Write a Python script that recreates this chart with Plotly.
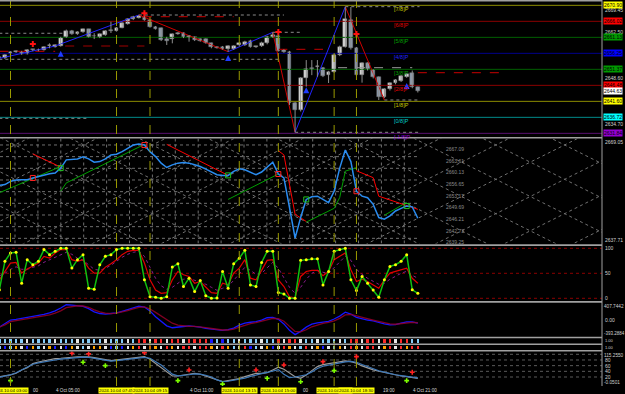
import plotly.graph_objects as go

# ------------------------------------------------------------------ data
bars = list(range(76))  # 15-minute bars, index 0 = 02:30
opens = [2654.68, 2654.83, 2656.05, 2656.66, 2656.81, 2656.05, 2657.27, 2657.12, 2657.27, 2658.49,
         2658.28, 2658.58, 2661.33, 2663.07, 2662.15, 2662.76, 2663.53, 2661.39, 2661.15, 2661.85,
         2663.22, 2663.16, 2664.08, 2665.21, 2666.64, 2667.13, 2667.43, 2666.43, 2664.38, 2663.89,
         2660.54, 2660.54, 2662.15, 2662.37, 2661.15, 2661.15, 2660.54, 2660.54, 2659.31, 2658.09,
         2658.28, 2657.48, 2657.58, 2658.70, 2658.80, 2660.11, 2658.19, 2658.49, 2659.31, 2661.33,
         2661.54, 2657.27, 2656.75, 2641.00, 2638.96, 2648.63, 2651.78, 2652.17, 2651.87, 2649.64,
         2650.65, 2655.74, 2658.28, 2666.43, 2657.97, 2649.64, 2653.21, 2651.17, 2648.94, 2643.02,
         2645.28, 2647.11, 2647.81, 2649.12, 2650.34, 2645.89]
highs = [2655.5, 2656.0, 2656.9, 2657.1, 2657.0, 2657.5, 2657.6, 2657.7, 2658.4, 2659.3,
         2659.0, 2661.3, 2663.5, 2663.4, 2663.0, 2663.8, 2663.7, 2662.4, 2662.3, 2663.3,
         2665.9, 2664.3, 2665.7, 2666.9, 2667.7, 2667.95, 2668.04, 2666.6, 2664.6, 2664.1,
         2661.3, 2662.3, 2662.7, 2662.6, 2661.85, 2661.4, 2660.8, 2660.8, 2659.5, 2658.4,
         2658.5, 2658.7, 2658.7, 2659.6, 2660.1, 2660.4, 2658.5, 2659.8, 2661.6, 2662.67,
         2662.67, 2657.5, 2657.0, 2641.4, 2649.0, 2654.2, 2654.2, 2654.2, 2652.1, 2650.9,
         2656.0, 2658.6, 2670.49, 2670.39, 2658.2, 2653.5, 2653.5, 2651.4, 2649.2, 2645.6,
         2647.4, 2648.4, 2649.6, 2650.3, 2651.0, 2646.1]
lows = [2654.3, 2654.5, 2655.8, 2656.4, 2655.8, 2655.9, 2656.9, 2656.9, 2657.1, 2657.8,
        2658.0, 2658.3, 2661.0, 2661.9, 2661.9, 2662.5, 2661.1, 2660.6, 2660.9, 2661.6,
        2662.46, 2662.9, 2663.9, 2665.0, 2666.4, 2666.9, 2666.2, 2664.1, 2663.5, 2660.0,
        2658.8, 2659.3, 2661.9, 2660.9, 2659.8, 2660.0, 2659.8, 2659.2, 2657.8, 2657.7,
        2657.4, 2656.75, 2657.3, 2658.4, 2658.5, 2658.0, 2657.9, 2658.2, 2659.0, 2661.0,
        2656.8, 2656.4, 2640.5, 2632.15, 2638.5, 2646.1, 2649.6, 2649.1, 2649.0, 2647.2,
        2650.3, 2655.4, 2658.0, 2657.4, 2649.3, 2647.3, 2651.0, 2648.6, 2642.01, 2642.6,
        2644.9, 2646.8, 2647.5, 2648.8, 2645.6, 2644.3]
closes = [2655.13, 2655.74, 2656.66, 2656.75, 2656.05, 2657.27, 2657.18, 2657.42, 2658.19, 2658.58,
          2658.80, 2661.02, 2663.16, 2662.15, 2662.76, 2663.53, 2661.33, 2661.54, 2662.06, 2663.07,
          2663.16, 2664.08, 2665.42, 2666.64, 2667.43, 2667.65, 2666.43, 2664.38, 2663.77, 2660.32,
          2660.11, 2662.06, 2662.46, 2661.15, 2661.20, 2660.32, 2660.11, 2659.50, 2658.09, 2658.00,
          2657.67, 2658.49, 2658.49, 2659.31, 2659.80, 2658.28, 2658.19, 2659.50, 2661.33, 2661.85,
          2657.06, 2656.75, 2641.00, 2638.96, 2648.63, 2651.38, 2651.47, 2652.17, 2649.33, 2650.65,
          2655.74, 2658.28, 2666.64, 2657.79, 2649.64, 2653.21, 2651.38, 2648.94, 2643.02, 2645.28,
          2647.11, 2648.11, 2649.33, 2649.95, 2645.89, 2644.63]
last_price = 2644.63

zz_bars = [0, 10, 25, 41, 49, 53, 62, 69]
zz_prices = [2654.70, 2658.49, 2667.95, 2656.75, 2662.67, 2632.15, 2670.49, 2642.01]
buy_bars = [11, 41, 55, 73]
buy_prices = [2657.06, 2655.74, 2645.89, 2647.20]
sell_bars = [6, 26, 50, 64]
sell_prices = [2659.10, 2668.47, 2662.77, 2662.15]

murrey_levels = [2670.90, 2666.02, 2661.13, 2656.25, 2651.37, 2646.48, 2641.60, 2636.72, 2631.84]
murrey_names = ["[7/8]P", "[6/8]P", "[5/8]P", "[4/8]P", "[3/8]P", "[2/8]P", "[1/8]P", "[0/8]P", "[-1/8]P"]
price_ticks = [2669.45, 2662.50, 2648.60, 2634.70]   # visible price-scale labels

# horizontal signal segments: (price, first bar, last bar)
gray_dotted = [(2662.37, 0, 11.8), (2654.43, 0, 50), (2636.42, 0, 16), (2667.95, 25, 51),
               (2662.67, 49, 54), (2670.49, 62, 75.3), (2642.01, 69, 75.3), (2632.15, 53, 75.3)]
gray_dashed = [(2651.87, 60.7, 74)]
red_dashed = [(2656.87, 0, 10), (2658.49, 11.8, 26), (2667.43, 25.7, 42), (2657.48, 50, 58),
              (2650.34, 75, 90)]

vline_bars = [2, 21, 27, 43, 50, 60, 64]
vline_labels = ["2024.10.04 03:00", "2024.10.04 07:45", "2024.10.04 09:15", "2024.10.04 13:15",
                "2024.10.04 15:00", "2024.10.04 17:30", "2024.10.04 18:30"]
time_tick_bars = [10, 34, 74]
time_tick_labels = ["4 Oct 05:00", "4 Oct 11:00", "4 Oct 21:00"]
# visible tails of axis labels that are partly covered by the yellow boxes
time_tail_px = [32.0, 301.5, 381.5]
time_tail_labels = ["00", "00", "19:00"]

# panel 2 (price oscillator with gann grid)
osc_line = [2655.07, 2655.27, 2656.25, 2656.66, 2656.75, 2656.75, 2657.25, 2657.72, 2658.22, 2658.52,
            2658.72, 2660.20, 2662.65, 2662.85, 2662.94, 2663.53, 2662.94, 2661.97, 2662.14, 2662.94,
            2664.12, 2664.33, 2665.09, 2666.10, 2667.07, 2667.36, 2667.07, 2665.09, 2663.62, 2661.67,
            2660.38, 2661.17, 2661.67, 2661.85, 2661.67, 2661.17, 2660.67, 2659.90, 2659.02, 2658.22,
            2658.02, 2658.02, 2659.20, 2659.99, 2659.70, 2659.02, 2658.22, 2659.02, 2660.38, 2661.97,
            2658.43, 2657.25, 2648.40, 2639.35, 2645.45, 2650.85, 2651.65, 2651.82, 2650.85, 2649.88,
            2653.30, 2660.20, 2665.59, 2662.14, 2653.30, 2651.82, 2651.35, 2649.38, 2645.45, 2644.95,
            2645.93, 2647.40, 2648.20, 2648.87, 2648.64, 2645.25]
osc_red_segments = [([6, 11], [2664.42, 2660.49]),
                    ([30, 41], [2667.27, 2658.02]),
                    ([50, 51, 53, 55], [2665.39, 2664.12, 2646.43, 2644.27]),
                    ([64, 67, 68, 75], [2659.40, 2657.34, 2651.82, 2647.90])]
osc_green_segments = [([0, 11], [2652.83, 2660.67]),
                      ([11, 12, 26], [2653.30, 2655.78, 2667.27]),
                      ([41, 50], [2650.85, 2658.43]),
                      ([55, 60, 61, 62, 64], [2644.07, 2648.20, 2651.44, 2659.30, 2660.30]),
                      ([69, 73], [2646.13, 2649.96])]
osc_red_marks = [6, 26, 50, 64]
osc_green_marks = [11, 41, 55, 73]
gann_levels = [2667.09, 2663.61, 2660.13, 2656.65, 2653.17, 2649.69, 2646.21, 2642.73, 2639.25]
osc_top, osc_bottom = 2669.05, 2637.71

# panel 3 stochastic
stoch_k = [16.7, 73.9, 90.7, 92.0, 30.2, 77.2, 67.1, 73.9, 97.4, 87.3,
           94.0, 100, 100, 60.4, 77.2, 87.3, 20.1, 18.1, 67.1, 83.9,
           87.3, 97.4, 100, 100, 100, 100, 36.9, 3.3, 2.0, 0.0,
           3.3, 62.4, 69.2, 23.5, 40.3, 13.4, 35.5, 5.0, 0.0, 0.5,
           53.7, 20.1, 69.2, 80.0, 96.0, 26.8, 23.5, 71.8, 94.0, 94.0,
           11.4, 8.7, 0.0, 0.0, 75.9, 77.2, 79.2, 79.2, 26.8, 53.7,
           94.0, 97.4, 100, 36.9, 15.4, 43.6, 30.2, 16.7, 2.0, 36.9,
           63.8, 67.1, 73.9, 87.3, 17.0, 10.0]
stoch_d = [36.9, 53.7, 70.5, 71.8, 50.4, 58.5, 65.2, 70.5, 83.9, 80.6,
           90.7, 97.4, 97.4, 77.2, 73.9, 77.2, 60.4, 50.4, 50.4, 62.4,
           69.2, 77.2, 87.3, 94.0, 96.0, 96.0, 70.5, 36.9, 16.7, 10.0,
           11.4, 36.9, 53.7, 47.1, 43.7, 30.2, 33.6, 23.5, 11.4, 10.0,
           30.2, 26.8, 50.4, 60.4, 77.2, 40.3, 36.9, 55.8, 75.9, 77.2,
           36.9, 23.5, 3.0, 1.0, 43.7, 53.7, 55.8, 55.8, 45.0, 53.7,
           77.2, 83.9, 90.7, 57.1, 33.6, 38.3, 33.6, 26.8, 20.1, 36.9,
           50.4, 53.7, 57.1, 60.4, 40.0, 30.2]
stoch_slow = [45, 50, 58, 63, 58, 58, 62, 65, 72, 77,
              82, 88, 92, 88, 80, 76, 66, 58, 56, 60,
              66, 74, 82, 88, 92, 94, 84, 62, 40, 25,
              18, 22, 30, 38, 40, 36, 32, 28, 22, 16,
              20, 24, 36, 48, 62, 56, 48, 50, 62, 72,
              60, 42, 22, 10, 22, 38, 50, 56, 52, 50,
              62, 74, 84, 76, 58, 48, 40, 34, 28, 30,
              38, 44, 50, 54, 46, 40]
stoch_levels = [100, 50, 0]

# panel 4 oscillator
macd_main = [-168, -92, 0, 15, 38, 53, 84, 107, 130, 168,
             214, 282, 359, 351, 344, 321, 267, 191, 153, 137,
             153, 168, 206, 244, 290, 328, 305, 214, 76, -38,
             -137, -183, -176, -153, -137, -145, -168, -198, -214, -237,
             -244, -229, -191, -122, -76, -53, -38, 0, 53, 61,
             15, -92, -244, -344, -267, -168, -99, -69, -46, -31,
             23, 92, 183, 137, 61, 23, 0, -23, -61, -92,
             -115, -107, -76, -46, -46, -76]
macd_signal = [-168, -115, -38, -15, 0, 15, 38, 61, 92, 122,
               160, 214, 290, 320, 336, 330, 300, 240, 190, 160,
               150, 160, 185, 220, 260, 300, 310, 260, 180, 92,
               0, -76, -122, -145, -150, -150, -160, -180, -200, -222,
               -235, -236, -215, -170, -120, -85, -60, -30, 15, 38,
               30, -30, -150, -270, -280, -230, -160, -115, -80, -55,
               -20, 38, 120, 130, 95, 55, 25, 0, -30, -60,
               -90, -100, -90, -65, -55, -65]
macd_top, macd_bottom = 407.7442, -393.2884

# panels 5/6 colour-state rows
state_row1 = "LLLLLWLLLL" "WLLLWLLLLW" "LLLWLRRWRR" "WRRWRRRRBL" "BLLWLLLWLL" "RWRRWLLWLL" "LWLRRWRRWR" "RWRRLL"
state_row2 = "LBLOWBOLWO" "BWBOWLWOOW" "BLBWORWROW" "ROWRRWRROW" "ROLWRBLWOB" "WROWLRWOBW" "LOWROWRRWO" "RWRORR"
state_colors = {"L": "#87cefa", "W": "#e8e8e8", "R": "#ff2a2a", "B": "#1a1aff", "O": "#ffa500"}

# panel 7
p7_gray = [21.3, 24, 27.2, 33.1, 44.9, 53, 67, 73, 77, 82.6,
           85, 86, 88.5, 89.6, 90.8, 92, 91, 88.5, 86.1, 81.4,
           77.9, 80.2, 82.6, 86.1, 89.6, 92, 92, 82.6, 68.4, 54.3,
           39, 23.6, 23.6, 26, 29.6, 33.1, 29.6, 23.6, 16.5, 9.5,
           3.7, 7.2, 9.5, 14.2, 21.3, 27.2, 33.1, 33.1, 35.4, 44.9,
           54.3, 47.2, 33.1, 21.3, 15.4, 27.2, 42.5, 56.7, 63.7, 67.3,
           68.4, 72, 76.7, 74.3, 68.4, 59, 50.8, 44.9, 40.2, 35.4,
           30.7, 27.2, 23.6, 21.3, 19, 15.4]
p7_blue = [19, 23, 28, 35, 46, 55, 65, 70, 74, 78,
           80, 83, 85, 87, 89, 90, 89, 86, 83, 79,
           76, 78, 80, 83, 86, 88, 89, 86, 74, 62,
           46, 30, 24, 25, 28, 31, 30, 26, 20, 10,
           4, 5, 8, 11, 16, 22, 28, 32, 36, 42,
           46, 30, 18, 20, 24, 28, 38, 50, 58, 62,
           64, 68, 73, 75, 72, 64, 56, 48, 42, 37,
           32, 28, 25, 22, 20, 17]
p7_red_bars = [13, 16, 26, 34, 46, 51, 58, 64, 74]
p7_red_vals = [103.9, 101.4, 106, 44.9, 44.9, 62.5, 74.2, 91.9, 36.7]
p7_green_bars = [2, 15, 19, 32, 40, 48, 54, 60, 73]
p7_green_vals = [7.1, 72.1, 60.1, 7.1, -5, 15.5, 3.5, 42.4, 7.1]
p7_levels = [100, 80, 60, 40, 20]
p7_top, p7_bottom = "115.2550", "-0.0501"

# ------------------------------------------------------------------ layout geometry
W, H = 625, 394
MR, MB = 23, 8
PW, PH = W - MR, H - MB
X0, DX = -0.66, 5.58          # pixel of bar 0, pixels per bar
XR = [(0 - X0) / DX, (PW - X0) / DX]
FONT = "Liberation Sans, Arial, sans-serif"


def fy(p):
    return 1 - p / PH


def kx(px):
    return (px - X0) / DX


panels = {
    1: (0.0, 137.0, (5.33, murrey_levels[0], 133.33, murrey_levels[-1])),
    2: (138.4, 243.5, (138.4, osc_top, 243.5, osc_bottom)),
    3: (246.0, 301.0, (248.3, 100.0, 298.3, 0.0)),
    4: (302.7, 336.7, (302.7, macd_top, 336.7, macd_bottom)),
    5: (338.3, 343.6, (338.3, 1.0, 343.6, 0.0)),
    6: (345.0, 350.2, (345.0, 1.0, 350.2, 0.0)),
    7: (351.5, 386.0, (354.3, 100.0, 377.0, 20.0)),
}

fig = go.Figure()
layout = dict(width=W, height=H, margin=dict(l=0, r=MR, t=0, b=MB, pad=0),
              paper_bgcolor="black", plot_bgcolor="black", showlegend=False,
              barmode="overlay", bargap=0,
              xaxis=dict(range=XR, domain=[0, 1], visible=False, fixedrange=True))
ranges = {}
for i, (pt, pb, (p1, v1, p2, v2)) in panels.items():
    f = (lambda p, p1=p1, v1=v1, p2=p2, v2=v2: v1 + (p - p1) * (v2 - v1) / (p2 - p1))
    ranges[i] = (f(pb), f(pt))
    key = "yaxis" if i == 1 else f"yaxis{i}"
    layout[key] = dict(domain=[fy(pb), fy(pt)], range=[f(pb), f(pt)], visible=False,
                       anchor="x", fixedrange=True)


def ya(i):
    return "y" if i == 1 else f"y{i}"


def line(i, x, y, color, width=1, dash="solid", **kw):
    fig.add_trace(go.Scatter(x=x, y=y, xaxis="x", yaxis=ya(i), mode="lines",
                             line=dict(color=color, width=width, dash=dash),
                             hoverinfo="skip", showlegend=False, **kw))


def hseg(i, segs, color, dash, width=1):
    xs, ys = [], []
    for lvl, a, b in segs:
        xs += [a, b, None]
        ys += [lvl, lvl, None]
    line(i, xs, ys, color, width, dash)


# ------------------------------------------------------------------ panel 1
m_line_cols = ["#8c8c00", "#8b0000", "#005f00", "#00008b", "#005f00", "#8b0000", "#8c8c00", "#008b8b", "#5a1070"]
m_text_cols = ["#c8c800", "#e00000", "#00a000", "#2020ff", "#00a000", "#e00000", "#c8c800", "#00c8c8", "#9000d0"]
m_box_cols = ["#ffff00", "#ff0000", "#009900", "#0000ff", "#009900", "#ff0000", "#ffff00", "#00ffff", "#9400d3"]
for lvl, c in zip(murrey_levels, m_line_cols):
    line(1, [XR[0], XR[1]], [lvl, lvl], c, 1)

hseg(1, gray_dotted, "#8a8a8a", "dot")
hseg(1, gray_dashed, "#9a9a9a", "dash")
hseg(1, red_dashed, "#a00000", "dash", 1.2)

for a in range(len(zz_bars) - 1):
    up = zz_prices[a + 1] > zz_prices[a]
    line(1, zz_bars[a:a + 2], zz_prices[a:a + 2], "#2323ff" if up else "#d00000", 1)

wx, wy = [], []
for k in bars:
    wx += [k, k, None]
    wy += [lows[k], highs[k], None]
line(1, wx, wy, "#8c8c8c", 1)
bull = [c >= o for o, c in zip(opens, closes)]
body_base = [min(o, c) for o, c in zip(opens, closes)]
body_h = [max(abs(c - o), 0.3) for o, c in zip(opens, closes)]
fig.add_trace(go.Bar(x=bars, y=body_h, base=body_base, width=0.68, xaxis="x", yaxis="y",
                     marker=dict(color=["#dedede" if b else "#8e9db0" for b in bull],
                                 line=dict(color="#6e6e6e", width=0.5)),
                     hoverinfo="skip", showlegend=False))
fig.add_trace(go.Scatter(x=buy_bars, y=buy_prices, xaxis="x", yaxis="y", mode="markers",
                         marker=dict(symbol="arrow-up", size=6, color="#1e3cff"),
                         hoverinfo="skip", showlegend=False))
fig.add_trace(go.Scatter(x=sell_bars, y=sell_prices, xaxis="x", yaxis="y", mode="markers",
                         marker=dict(symbol="cross", size=5, color="#ff1010"),
                         hoverinfo="skip", showlegend=False))

# ------------------------------------------------------------------ panel 2
lo2, hi2 = ranges[2]
grid_col = "#707070"
hseg(2, [(g, XR[0], kx(420)) for g in gann_levels], grid_col, "dot")
vx, vy = [], []
px = 15.0
while px <= 421:
    vx += [kx(px), kx(px), None]
    vy += [lo2, hi2, None]
    px += 22.9
line(2, vx, vy, grid_col, 1, "dot")
ppx2 = (hi2 - lo2) / (panels[2][1] - panels[2][0])
slope = 0.5 * DX * ppx2
step = 68.7 / DX
ka = kx(15)
dx_, dy_ = [], []
for n in range(-20, 30):
    kc = ka + n * step
    for s in (1, -1):
        for kk in (-20, 130):
            dx_.append(kk)
            dy_.append(gann_levels[0] - s * slope * (kk - kc))
        dx_.append(None)
        dy_.append(None)
line(2, dx_, dy_, grid_col, 1, "dot")

for xs, ys in osc_green_segments:
    line(2, xs, ys, "#00a000", 1)
for xs, ys in osc_red_segments:
    line(2, xs, ys, "#ff0000", 1)
line(2, bars, osc_line, "#2a8cf0", 1.5)
fig.add_trace(go.Scatter(x=osc_red_marks, y=[osc_line[k] for k in osc_red_marks], xaxis="x", yaxis="y2",
                         mode="markers", marker=dict(symbol="square-open", size=5, color="#ff2020"),
                         hoverinfo="skip", showlegend=False))
fig.add_trace(go.Scatter(x=osc_green_marks, y=[osc_line[k] for k in osc_green_marks], xaxis="x", yaxis="y2",
                         mode="markers", marker=dict(symbol="square-open", size=5, color="#20c020"),
                         hoverinfo="skip", showlegend=False))

# ------------------------------------------------------------------ panel 3
hseg(3, [(l, XR[0], XR[1]) for l in stoch_levels], "#8b0000", "dot")
line(3, bars, stoch_slow, "#8a1a8a", 1, "dot")
line(3, bars, stoch_d, "#e00000", 1.2)
fig.add_trace(go.Scatter(x=bars, y=stoch_k, xaxis="x", yaxis="y3", mode="lines+markers",
                         line=dict(color="#10c010", width=1.5),
                         marker=dict(size=3, color="#ffff00"),
                         hoverinfo="skip", showlegend=False))

# ------------------------------------------------------------------ panel 4
line(4, bars, macd_main, "#1515ff", 1.3)
line(4, bars, macd_signal, "rgba(150,0,40,0.85)", 1.3)

# ------------------------------------------------------------------ panels 5/6
for i, row in ((5, state_row1), (6, state_row2)):
    fig.add_trace(go.Bar(x=bars, y=[0.64] * len(bars), base=0.14, width=0.42, xaxis="x", yaxis=ya(i),
                         marker=dict(color=[state_colors[c] for c in row], line=dict(width=0)),
                         hoverinfo="skip", showlegend=False))

# ------------------------------------------------------------------ panel 7
hseg(7, [(l, XR[0], XR[1]) for l in p7_levels], "#5a5a5a", "dot")
line(7, bars, p7_gray, "#9a9a9a", 1.2)
line(7, bars, p7_blue, "#3d78b8", 1.2)
fig.add_trace(go.Scatter(x=p7_red_bars, y=p7_red_vals, xaxis="x", yaxis="y7", mode="markers",
                         marker=dict(symbol="cross", size=4, color="#ff2020"),
                         hoverinfo="skip", showlegend=False))
fig.add_trace(go.Scatter(x=p7_green_bars, y=p7_green_vals, xaxis="x", yaxis="y7", mode="markers",
                         marker=dict(symbol="cross", size=4, color="#7cfc00"),
                         hoverinfo="skip", showlegend=False))

# ------------------------------------------------------------------ shapes
shapes = []
for k in vline_bars:
    shapes.append(dict(type="line", xref="x", yref="paper", x0=k, x1=k, y0=0, y1=1,
                       line=dict(color="#9a9a00", width=1, dash="dash"), layer="above"))
for p in [0.7, 137.7, 245.1, 301.9, 337.5, 344.3, 350.8]:
    shapes.append(dict(type="rect", xref="paper", yref="paper", x0=0, x1=1,
                       y0=fy(p + 0.8), y1=fy(p - 0.8), fillcolor="#a0a0a0", line=dict(width=0),
                       layer="above"))
shapes.append(dict(type="line", xref="paper", yref="paper", x0=1, x1=1, y0=0, y1=1,
                   line=dict(color="#a0a0a0", width=1)))
layout["shapes"] = shapes

# ------------------------------------------------------------------ annotations
anns = []


def lab(x, y, text, xref="paper", yref="paper", size=5, color="#d0d0d0", bg=None,
        xanchor="left", yanchor="middle", xshift=0, yshift=0):
    d = dict(x=x, y=y, xref=xref, yref=yref, text=text, showarrow=False,
             font=dict(family=FONT, size=size, color=color), xanchor=xanchor, yanchor=yanchor,
             xshift=xshift, yshift=yshift, borderpad=0)
    if bg:
        d["bgcolor"] = bg
    anns.append(d)


# murrey names
for lvl, name, c in zip(murrey_levels, murrey_names, m_text_cols):
    lab(kx(393), lvl, name, xref="x", yref="y", size=5.5, color=c, yanchor="top")
# right price scale of main panel
for t in price_ticks:
    lab(1, t, f"{t:.2f}", yref="y", xshift=2, yshift=1 if t == 2662.50 else 0)
for lvl, c in zip(murrey_levels, m_box_cols):
    lab(1, lvl, f"{lvl:.2f}", yref="y", xshift=1, color="#000000", bg=c)
lab(1, last_price, f"{last_price:.2f}", yref="y", xshift=1, color="#000000", bg="#ffffff")

# panel 2 labels
for g in gann_levels:
    lab(kx(445), g, f"{g:.2f}", xref="x", yref="y2", color="#8a8a8a", yanchor="top")
lab(1, fy(panels[2][0]), f"{osc_top:.2f}", xshift=2, yanchor="top")
lab(1, fy(panels[2][1]), f"{osc_bottom:.2f}", xshift=2, yanchor="bottom")
# panel 3
for l in stoch_levels:
    lab(1, l, str(l), yref="y3", xshift=2)
# panel 4
lab(1, fy(panels[4][0]), f"{macd_top:.4f}", xshift=1, yanchor="top", size=4.7)
lab(1, 0, "0.00", yref="y4", xshift=2)
lab(1, fy(panels[4][1]), f"{macd_bottom:.4f}", xshift=1, yanchor="bottom", size=4.5)
# panels 5/6
lab(1, 0.5, "1.00", yref="y5", xshift=2, size=4)
lab(1, 0.5, "1.00", yref="y6", xshift=2, size=4)
# panel 7
lab(1, fy(panels[7][0]), p7_top, xshift=1, yanchor="top", size=4.7)
for l in p7_levels[1:]:
    lab(1, l, str(l), yref="y7", xshift=2)
lab(1, fy(panels[7][1]), p7_bottom, xshift=1, yanchor="bottom", size=4.7)

# time axis
for k, t in zip(time_tick_bars, time_tick_labels):
    lab(k, 0, t, xref="x", size=4.6, color="#d8d8d8", yanchor="top", yshift=-1)
for p, t in zip(time_tail_px, time_tail_labels):
    lab(kx(p), 0, t, xref="x", size=4.6, color="#d8d8d8", yanchor="top", yshift=-1)
for k, t in zip(vline_bars, vline_labels):
    lab(k, 0, t, xref="x", size=4.4, color="#000000", bg="#ffff00", xanchor="center",
        yanchor="top", yshift=-1)
layout["annotations"] = anns

fig.update_layout(**layout)
fig.write_html("out.html")
